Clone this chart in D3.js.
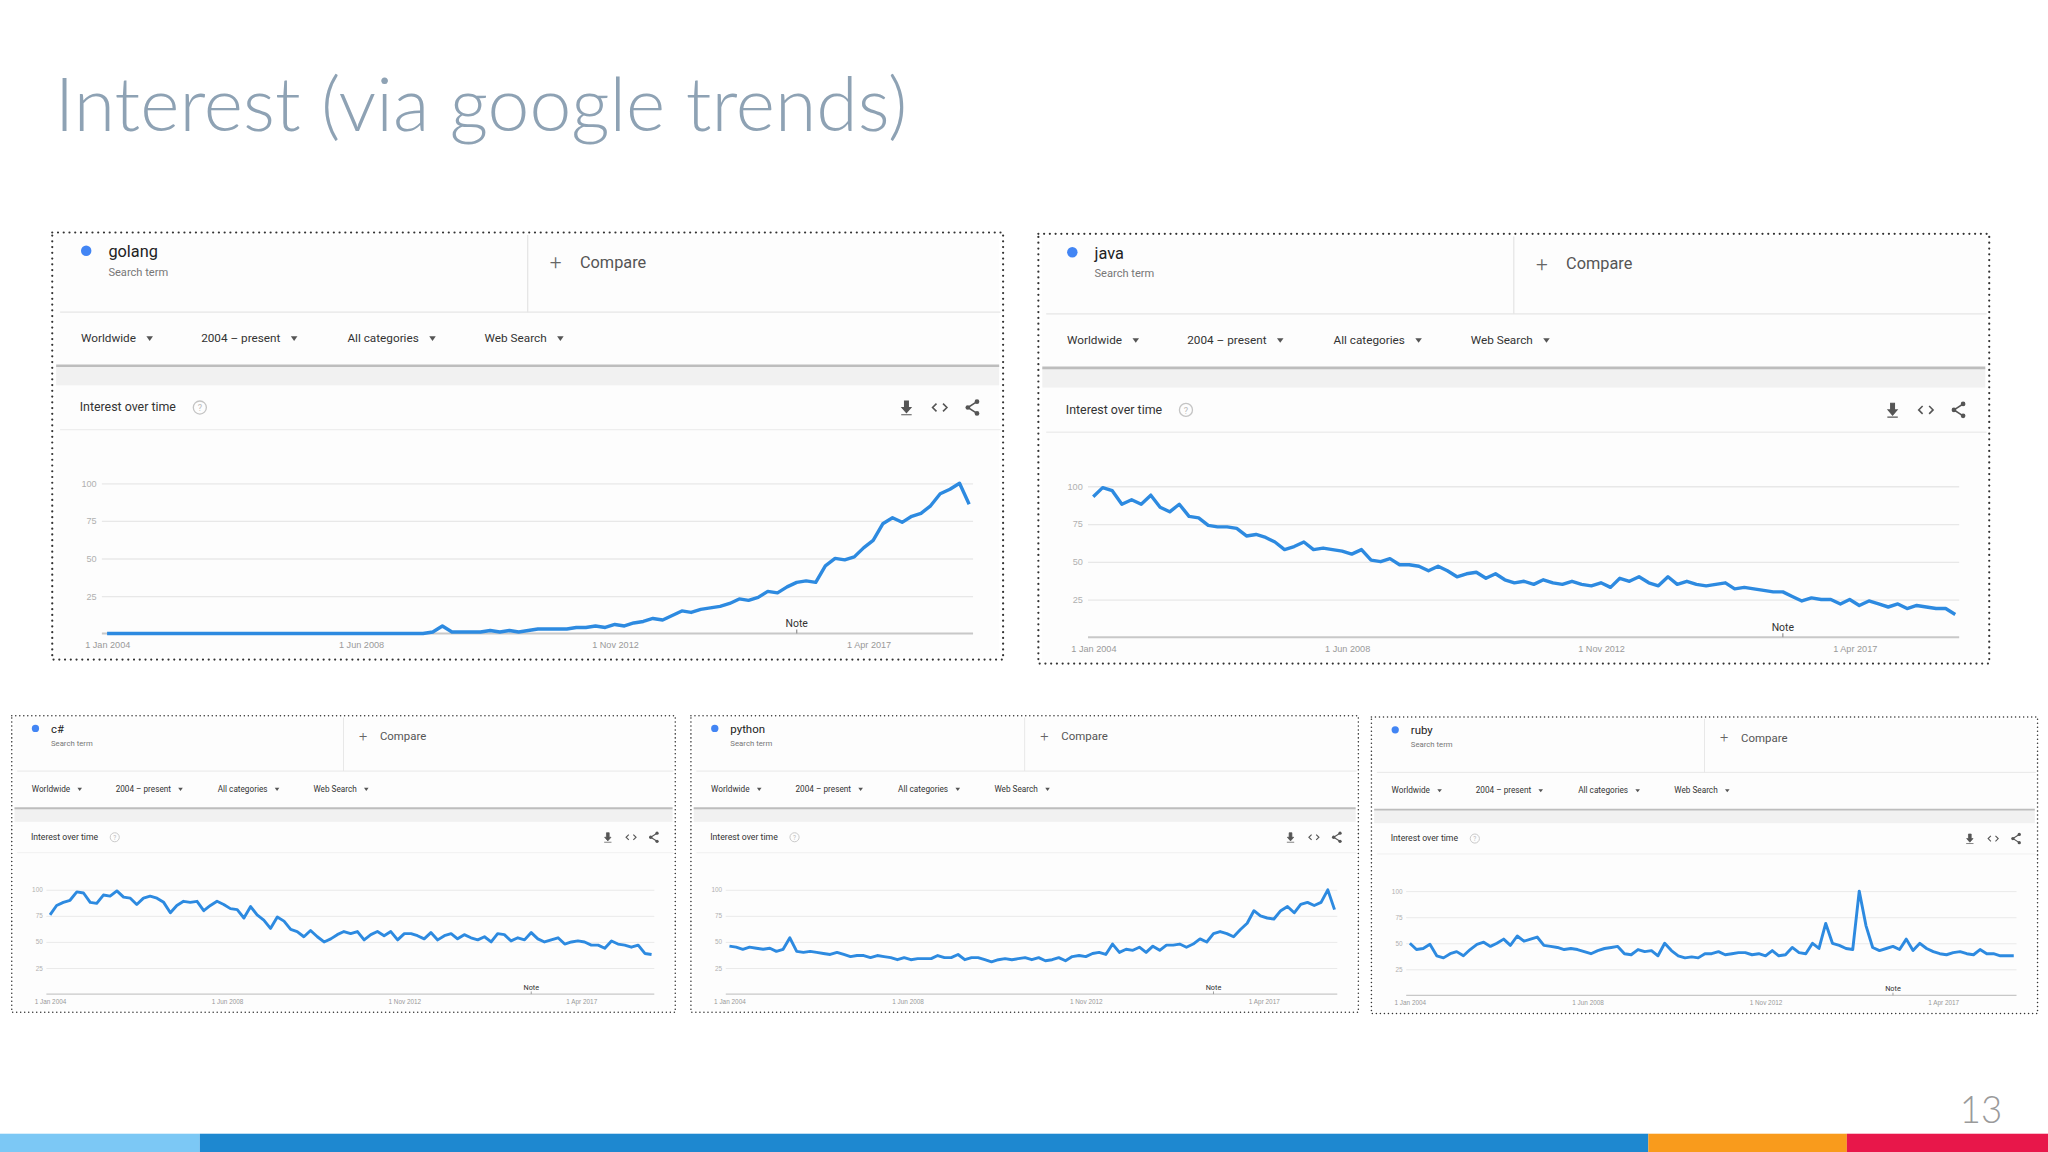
<!DOCTYPE html>
<html>
<head>
<meta charset="utf-8">
<script src="https://cdn.jsdelivr.net/npm/d3@7"></script>
<style>
  body { margin: 0; background: #fff; }
  svg { display: block; font-family: Roboto, "Noto Sans", sans-serif; }
</style>
</head>
<body>
<svg id="slide" width="2048" height="1152"></svg>
<script>
// bi-monthly samples, Jan 2004 .. Jan 2019
var golang = [0,0,0,0,0,0, 0,0,0,0,0,0, 0,0,0,0,0,0, 0,0,0,0,0,0, 0,0,0,0,0,0,
  0,0,0,0,1,5, 1,1,1,1,2,1, 2,1,2,3,3,3, 3,4,4,5,4,6, 5,7,8,10,9,12,
  15,14,16,17,18,20, 23,22,24,28,27,31, 34,35,34,45,50,49, 51,57,62,73,77,74,
  78,80,85,93,96,100, 86];
var java = [93,99,97,88,91,88, 94,86,83,88,80,79, 74,73,73,72,67,68, 66,63,58,60,63,58,
  59,58,57,55,58,51, 50,52,48,48,47,44, 47,44,40,42,43,39, 42,38,36,37,35,38,
  36,35,37,35,34,36, 33,39,37,40,36,34, 40,35,37,35,34,35, 36,32,33,32,31,30,
  30,27,24,26,25,25, 22,25,21,24,22,20, 22,19,21,20,19,19, 15];
var csharp = [76,85,88,90,98,97, 88,87,95,94,99,93, 92,86,92,94,92,88, 78,85,89,88,89,80,
  85,89,86,82,81,73, 84,76,71,63,74,70, 62,60,55,61,55,50, 53,57,60,58,60,52,
  57,60,56,60,52,58, 58,56,53,59,52,56, 58,53,57,54,52,55, 50,58,57,51,54,52,
  59,53,50,52,54,48, 50,51,50,47,47,44, 51,48,47,45,47,39, 38];
var python = [46,45,43,45,44,43, 44,41,43,54,41,40, 41,40,39,38,40,38, 36,37,37,35,37,36,
  35,33,35,33,34,34, 34,37,35,35,38,33, 35,35,33,31,33,34, 33,34,35,33,35,32,
  33,35,32,36,37,36, 39,40,38,48,40,43, 42,45,40,46,42,47, 47,48,45,48,53,50,
  58,60,58,55,62,68, 80,75,73,72,80,84, 78,86,88,85,88,100, 81];
var ruby = [50,44,45,49,38,36, 40,42,38,44,49,51, 47,50,54,48,57,52, 54,56,48,47,46,44,
  45,44,42,40,43,45, 46,47,40,39,44,42, 43,38,50,43,38,36, 37,36,40,40,42,39,
  40,41,41,39,40,38, 43,38,39,46,41,40, 50,45,69,50,48,45, 44,100,67,46,43,45,
  47,44,54,43,50,45, 42,40,39,41,42,40, 39,44,40,40,38,38, 38];

var filterLabels = ["Worldwide", "2004 – present", "All categories", "Web Search"];
var yTicks = [25, 50, 75, 100];
var xTicks = [new Date(2004, 0, 1), new Date(2008, 5, 1), new Date(2012, 10, 1), new Date(2017, 3, 1)];
var noteDate = new Date(2016, 0, 1);
var barColors = ["#7cc8f5", "#1e88d0", "#f99b1c", "#e8174a"];
var barStops = [0, 153, 1262, 1414, 1568];

var start = new Date(2004, 0, 1);
function toPoints(arr) {
  return arr.map(function(v, i) { return { date: d3.timeMonth.offset(start, i * 2), value: v }; });
}

var svg = d3.select("#slide");
var root = svg.append("g").attr("transform", "scale(" + (2048 / 1568) + ")");

root.append("text")
  .attr("x", 42).attr("y", 100)
  .style("font-family", "Lato, sans-serif").style("font-weight", 300)
  .style("font-size", "57.5px").attr("fill", "#8ea2b4")
  .text("Interest (via google trends)");

function drawPanel(px, py, pw, ph, term, series, lw) {
  var g = root.append("g")
    .attr("transform", "translate(" + px + "," + py + ") scale(" + (pw / 728) + "," + (ph / 327) + ")");

  g.append("rect").attr("x", 3).attr("y", 2).attr("width", 722).attr("height", 323).attr("fill", "#fdfdfd");
  g.append("rect").attr("x", 0).attr("y", 0).attr("width", 728).attr("height", 327)
    .attr("fill", "none").attr("stroke", "#333").attr("stroke-width", 1.7)
    .attr("stroke-linecap", "round").attr("stroke-dasharray", "0,4.4");

  g.append("circle").attr("cx", 26).attr("cy", 14).attr("r", 4).attr("fill", "#4285f4");
  g.append("text").attr("x", 43).attr("y", 19).style("font-size", "12.5px").attr("fill", "#222").text(term);
  g.append("text").attr("x", 43).attr("y", 33).style("font-size", "8.5px").attr("fill", "#777").text("Search term");
  g.append("line").attr("x1", 364).attr("x2", 364).attr("y1", 2).attr("y2", 61).attr("stroke", "#e6e6e6");
  g.append("text").attr("x", 381).attr("y", 28).style("font-size", "16px").style("font-weight", 300).attr("fill", "#666").text("+");
  g.append("text").attr("x", 404).attr("y", 27).style("font-size", "12.5px").attr("fill", "#555").text("Compare");
  g.append("line").attr("x1", 6).attr("x2", 726).attr("y1", 61).attr("y2", 61).attr("stroke", "#e6e6e6");

  var fx = [22, 114, 226, 331];
  filterLabels.forEach(function(t, i) {
    var tx = g.append("text").attr("x", fx[i]).attr("y", 84).style("font-size", "9px").attr("fill", "#333").text(t);
    var w = tx.node().getComputedTextLength();
    var ax = fx[i] + w + 8;
    g.append("path").attr("d", "M" + ax + ",79.5 l5,0 l-2.5,3.5 z").attr("fill", "#555");
  });

  g.append("rect").attr("x", 3).attr("y", 102).attr("width", 722).attr("height", 15).attr("fill", "#f1f1f1");
  g.append("line").attr("x1", 3).attr("x2", 725).attr("y1", 102).attr("y2", 102).attr("stroke", "#bdbdbd").attr("stroke-width", 2);

  g.append("text").attr("x", 21).attr("y", 137).style("font-size", "9.5px").attr("fill", "#333").text("Interest over time");
  g.append("circle").attr("cx", 113).attr("cy", 134).attr("r", 5).attr("fill", "none").attr("stroke", "#c4c4c4");
  g.append("text").attr("x", 113).attr("y", 137).attr("text-anchor", "middle").style("font-size", "7px").attr("fill", "#bbb").text("?");
  // download / embed / share icons
  g.append("path").attr("d", "M652.5,129 v5 h-2 l3.5,4 l3.5,-4 h-2 v-5 z M650,139.5 h8").attr("fill", "#555").attr("stroke", "#555").attr("stroke-width", 0.8);
  g.append("path").attr("d", "M677,131 l-3,3 l3,3 M682,131 l3,3 l-3,3").attr("fill", "none").attr("stroke", "#555").attr("stroke-width", 1.2);
  g.append("path").attr("d", "M708,129.5 l-7,4.5 l7,4.5").attr("fill", "none").attr("stroke", "#555").attr("stroke-width", 1.2);
  [[708, 129.5], [701, 134], [708, 138.5]].forEach(function(p) {
    g.append("circle").attr("cx", p[0]).attr("cy", p[1]).attr("r", 1.8).attr("fill", "#555");
  });
  g.append("line").attr("x1", 6).attr("x2", 726).attr("y1", 151).attr("y2", 151).attr("stroke", "#eee");

  var x = d3.scaleTime().domain([start, new Date(2019, 0, 1)]).range([42, 702]);
  var y = d3.scaleLinear().domain([0, 100]).range([307, 192]);

  var ya = g.append("g").attr("transform", "translate(38,0)")
    .call(d3.axisLeft(y).tickValues(yTicks).tickSize(-667).tickPadding(4));
  ya.select(".domain").remove();
  ya.selectAll("line").attr("stroke", "#e8e8e8");
  ya.selectAll("text").attr("fill", "#b0b0b0").style("font-size", "7px");

  var xa = g.append("g").attr("transform", "translate(0,307)")
    .call(d3.axisBottom(x).tickValues(xTicks).tickSize(0).tickPadding(6).tickFormat(d3.timeFormat("%-d %b %Y")));
  xa.select(".domain").remove();
  xa.selectAll("text").attr("fill", "#999").style("font-size", "7px");
  g.append("line").attr("x1", 38).attr("x2", 705).attr("y1", 307).attr("y2", 307).attr("stroke", "#c8c8c8").attr("stroke-width", 1.5);

  g.append("text").attr("x", x(noteDate)).attr("y", 302).attr("text-anchor", "middle")
    .style("font-size", "8px").attr("fill", "#333").text("Note");
  g.append("line").attr("x1", x(noteDate)).attr("x2", x(noteDate)).attr("y1", 304).attr("y2", 307).attr("stroke", "#999");

  g.append("path").datum(toPoints(series))
    .attr("fill", "none").attr("stroke", "#2d8ae0").attr("stroke-width", lw)
    .attr("stroke-linejoin", "round")
    .attr("d", d3.line().x(function(d) { return x(d.date); }).y(function(d) { return y(d.value); }));
}

drawPanel(40, 178, 728, 327, "golang", golang, 2.6);
drawPanel(795, 179, 728, 329, "java", java, 2.6);
drawPanel(9, 548, 508, 227, "c#", csharp, 3.2);
drawPanel(529, 548, 511, 227, "python", python, 3.2);
drawPanel(1050, 549, 510, 227, "ruby", ruby, 3.2);

barColors.forEach(function(c, i) {
  root.append("rect").attr("x", barStops[i]).attr("y", 868)
    .attr("width", barStops[i + 1] - barStops[i]).attr("height", 14).attr("fill", c);
});
root.append("text").attr("x", 1533).attr("y", 860).attr("text-anchor", "end")
  .style("font-family", "Lato, sans-serif").style("font-weight", 300)
  .style("font-size", "28px").attr("fill", "#9a9a9a").text("13");
</script>
</body>
</html>
